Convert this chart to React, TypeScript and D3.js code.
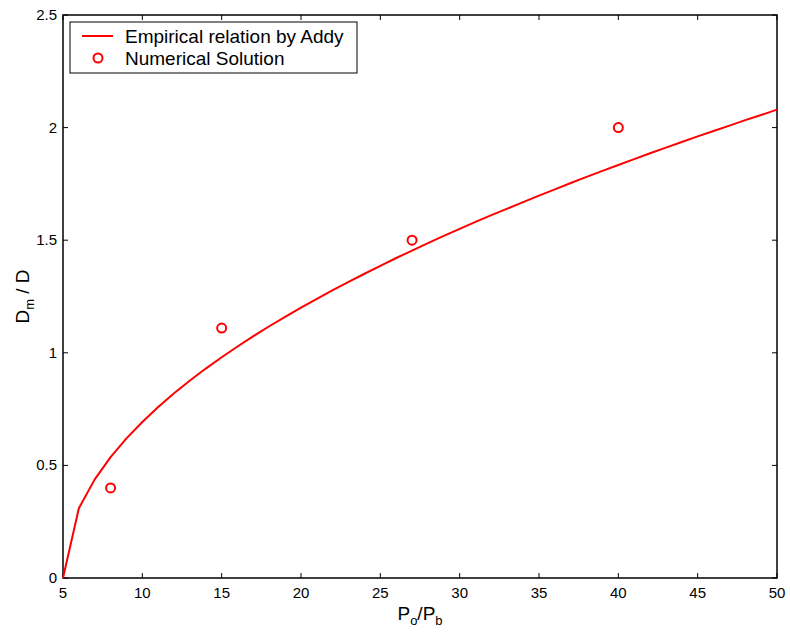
import React from "react";
import * as d3 from "d3";

const curveX = [5,6,7,8,9,10,11,12,13,14,15,16,17,18,19,20,21,22,23,24,25,26,27,28,29,30,31,32,33,34,35,36,37,38,39,40,41,42,43,44,45,46,47,48,49,50];
const curveY = [0,0.31,0.438,0.537,0.62,0.693,0.759,0.82,0.877,0.93,0.98,1.028,1.074,1.118,1.16,1.201,1.24,1.278,1.315,1.351,1.386,1.421,1.454,1.487,1.519,1.55,1.581,1.611,1.64,1.669,1.698,1.726,1.754,1.781,1.808,1.834,1.86,1.886,1.911,1.936,1.961,1.985,2.009,2.033,2.056,2.08];
const pointX = [8, 15, 27, 40];
const pointY = [0.4, 1.11, 1.5, 2.0];
const xTicks = [5,10,15,20,25,30,35,40,45,50];
const yTicks = [0,0.5,1,1.5,2,2.5];
const legendLabels = ["Empirical relation by Addy", "Numerical Solution"];

export default function App() {
  const W = 790, H = 640;
  const L = 63, R = 777, T = 15, B = 578;
  const x = d3.scaleLinear().domain([5, 50]).range([L, R]);
  const y = d3.scaleLinear().domain([0, 2.5]).range([B, T]);
  const line = d3.line<number>().x((_, i) => x(curveX[i])).y((d) => y(d));
  const font = "'Liberation Sans', Arial, Helvetica, sans-serif";
  const red = "#ff0000";
  const tl = 5;
  return (
    <svg width={W} height={H} style={{ position: "absolute", left: 0, top: 0 }} fontFamily={font}>
      <rect x={0} y={0} width={W} height={H} fill="#fff" />
      <rect x={L} y={T} width={R - L} height={B - T} fill="#fff" stroke="#000" strokeWidth={1.5} />
      {xTicks.map((t) => (
        <g key={"x" + t}>
          <line x1={x(t)} x2={x(t)} y1={B} y2={B - tl} stroke="#000" />
          <line x1={x(t)} x2={x(t)} y1={T} y2={T + tl} stroke="#000" />
          <text x={x(t)} y={B + 20} fontSize={15} textAnchor="middle">{t}</text>
        </g>
      ))}
      {yTicks.map((t) => (
        <g key={"y" + t}>
          <line x1={L} x2={L + tl} y1={y(t)} y2={y(t)} stroke="#000" />
          <line x1={R} x2={R - tl} y1={y(t)} y2={y(t)} stroke="#000" />
          <text x={L - 6} y={y(t) + 5} fontSize={15} textAnchor="end">{t}</text>
        </g>
      ))}
      <path d={line(curveY) || ""} fill="none" stroke={red} strokeWidth={2} strokeLinejoin="round" />
      {pointX.map((px, i) => (
        <circle key={"p" + i} cx={x(px)} cy={y(pointY[i])} r={4.5} fill="none" stroke={red} strokeWidth={2} />
      ))}
      <g>
        <rect x={70} y={22} width={287} height={51} fill="#fff" stroke="#000" strokeWidth={1} />
        <line x1={82} x2={113} y1={36} y2={36} stroke={red} strokeWidth={2} />
        <text x={125} y={43} fontSize={19}>{legendLabels[0]}</text>
        <circle cx={98} cy={58} r={4.5} fill="none" stroke={red} strokeWidth={2} />
        <text x={125} y={65} fontSize={19}>{legendLabels[1]}</text>
      </g>
      <text x={420} y={620} fontSize={19} textAnchor="middle">
        P<tspan fontSize={13} dy={5}>o</tspan><tspan dy={-5}>/P</tspan><tspan fontSize={13} dy={5}>b</tspan>
      </text>
      <text transform={`translate(29, ${(T + B) / 2}) rotate(-90)`} fontSize={19} textAnchor="middle">
        D<tspan fontSize={13} dy={5}>m</tspan><tspan dy={-5}> / D</tspan>
      </text>
    </svg>
  );
}
